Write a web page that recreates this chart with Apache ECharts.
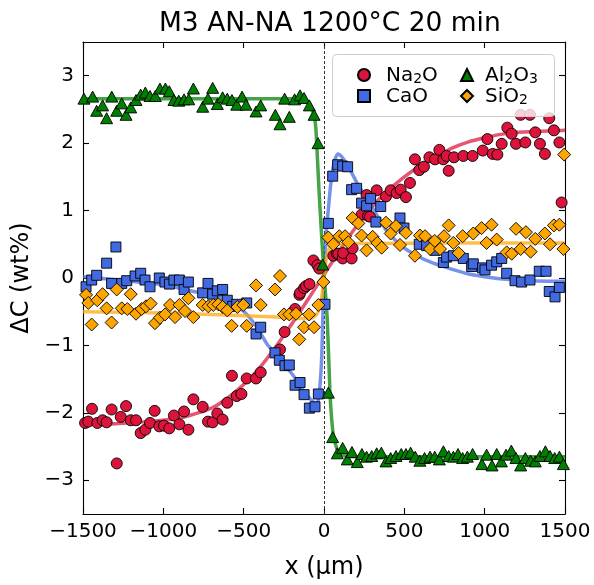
<!DOCTYPE html>
<html><head><meta charset="utf-8">
<script src="https://cdn.jsdelivr.net/npm/echarts@6/dist/echarts.min.js"></script>
<style>html,body{margin:0;padding:0;background:#fff}#c{width:594px;height:585px}</style>
</head><body><div id="c"></div>
<script>
const FONT = 'DejaVu Sans';
const titleText = 'M3 AN-NA 1200°C 20 min';
const xName = 'x (μm)';
const yName = 'ΔC (wt%)';
const xTicks = [-1500, -1000, -500, 0, 500, 1000, 1500];
const yTicks = [-3, -2, -1, 0, 1, 2, 3];
const seriesNames = ['Na2O', 'CaO', 'Al2O3', 'SiO2'];

const na2oPts = [[-1487,-2.15],[-1467,-2.13],[-1444,-1.94],[-1411,-2.15],[-1378,-2.11],[-1353,-2.14],[-1322,-1.95],[-1290,-2.75],[-1265,-2.06],[-1232,-1.90],[-1203,-2.11],[-1170,-2.11],[-1141,-2.30],[-1112,-2.25],[-1083,-2.15],[-1054,-1.97],[-1025,-2.20],[-996,-2.19],[-963,-2.23],[-934,-2.04],[-900,-2.17],[-871,-1.98],[-844,-2.25],[-813,-1.80],[-755,-1.91],[-722,-2.13],[-693,-2.14],[-664,-2.01],[-631,-2.10],[-602,-1.85],[-573,-1.45],[-543,-1.75],[-514,-1.72],[-481,-1.49],[-423,-1.49],[-394,-1.40],[-274,-1.06],[-245,-0.80],[-191,-0.50],[-180,-0.46],[-153,-0.25],[-149,-0.22],[-124,-0.15],[-112,-0.12],[-91,-0.09],[-66,0.26],[-41,0.19],[-29,0.14],[58,0.33],[79,0.36],[89,0.36],[116,0.29],[119,0.37],[172,0.29],[178,0.44],[234,0.94],[274,0.92],[286,0.91],[265,1.23],[328,1.30],[386,1.21],[415,1.30],[452,1.26],[477,1.31],[510,1.20],[535,1.41],[566,1.76],[593,1.60],[622,1.65],[656,1.79],[691,1.76],[718,1.90],[743,1.76],[763,1.81],[776,1.59],[809,1.79],[867,1.81],[925,1.81],[988,1.89],[1017,2.06],[1050,1.84],[1079,1.83],[1106,1.99],[1141,2.23],[1168,2.14],[1195,1.99],[1224,2.42],[1253,2.01],[1282,2.42],[1315,2.16],[1344,1.99],[1375,1.84],[1402,2.37],[1431,2.19],[1465,2.01],[1479,1.12]];

const caoPts = [[-1481,-0.13],[-1446,-0.03],[-1415,0.04],[-1353,0.22],[-1322,-0.08],[-1295,0.46],[-1259,-0.08],[-1228,-0.04],[-1176,0.03],[-1141,0.07],[-1114,-0.03],[-1083,-0.13],[-1025,0.00],[-990,-0.06],[-962,-0.09],[-934,-0.03],[-900,-0.03],[-871,-0.17],[-844,-0.06],[-755,-0.22],[-722,-0.08],[-693,-0.24],[-664,-0.19],[-631,-0.17],[-602,-0.33],[-568,-0.42],[-543,-0.39],[-481,-0.37],[-423,-0.83],[-394,-0.73],[-305,-1.11],[-278,-1.22],[-243,-1.30],[-216,-1.29],[-180,-1.59],[-149,-1.55],[-124,-1.73],[-91,-1.93],[-56,-1.91],[-35,-1.72],[6,-0.39],[27,0.81],[54,1.51],[85,1.68],[116,1.66],[147,1.65],[172,1.31],[203,1.33],[234,1.11],[265,1.07],[290,1.18],[323,0.83],[353,1.06],[473,0.89],[498,0.74],[593,0.50],[639,0.48],[691,0.41],[743,0.23],[763,0.31],[805,0.33],[867,0.29],[919,0.17],[929,0.21],[987,0.15],[1002,0.12],[1043,0.19],[1075,0.24],[1106,0.29],[1137,0.07],[1189,-0.04],[1230,-0.06],[1282,-0.03],[1340,0.10],[1382,0.10],[1402,-0.20],[1438,-0.28],[1465,-0.14]];

const al2o3Pts = [[-1494,2.66],[-1440,2.69],[-1415,2.48],[-1378,2.56],[-1353,2.37],[-1321,2.69],[-1290,2.48],[-1259,2.59],[-1232,2.42],[-1203,2.53],[-1170,2.64],[-1141,2.72],[-1112,2.75],[-1083,2.70],[-1050,2.70],[-1021,2.81],[-987,2.81],[-963,2.77],[-934,2.64],[-904,2.63],[-871,2.65],[-842,2.65],[-813,2.81],[-755,2.54],[-722,2.66],[-693,2.82],[-664,2.58],[-631,2.68],[-602,2.66],[-573,2.64],[-543,2.57],[-510,2.69],[-485,2.57],[-423,2.47],[-394,2.56],[-303,2.42],[-274,2.28],[-245,2.66],[-216,2.39],[-183,2.65],[-149,2.71],[-124,2.67],[-91,2.56],[-62,2.42],[-37,2.00],[-8,0.20],[27,-1.70],[54,-2.36],[83,-2.60],[116,-2.52],[145,-2.69],[174,-2.58],[207,-2.73],[236,-2.61],[265,-2.65],[297,-2.64],[328,-2.60],[357,-2.59],[386,-2.72],[415,-2.67],[448,-2.64],[481,-2.61],[510,-2.61],[539,-2.59],[568,-2.65],[597,-2.71],[626,-2.67],[660,-2.65],[689,-2.65],[718,-2.69],[743,-2.57],[776,-2.64],[805,-2.65],[834,-2.61],[863,-2.67],[892,-2.65],[925,-2.61],[983,-2.76],[1012,-2.62],[1046,-2.78],[1075,-2.61],[1104,-2.72],[1133,-2.62],[1166,-2.56],[1195,-2.67],[1224,-2.78],[1253,-2.67],[1286,-2.71],[1315,-2.72],[1344,-2.64],[1378,-2.57],[1407,-2.64],[1436,-2.67],[1465,-2.65],[1490,-2.76]];

const sio2Pts = [[-1481,-0.25],[-1467,-0.37],[-1446,-0.69],[-1411,-0.33],[-1378,-0.24],[-1353,-0.45],[-1322,-0.66],[-1290,-0.17],[-1259,-0.45],[-1224,-0.46],[-1203,-0.24],[-1170,-0.53],[-1135,-0.46],[-1108,-0.42],[-1079,-0.38],[-1052,-0.67],[-1021,-0.59],[-989,-0.54],[-958,-0.40],[-927,-0.58],[-900,-0.40],[-865,-0.49],[-844,-0.30],[-813,-0.58],[-755,-0.40],[-720,-0.42],[-689,-0.40],[-658,-0.39],[-631,-0.43],[-602,-0.48],[-575,-0.71],[-539,-0.43],[-502,-0.40],[-481,-0.71],[-423,-0.11],[-394,-0.40],[-305,-0.17],[-274,0.03],[-249,-0.54],[-216,-0.54],[-174,-0.53],[-154,-0.91],[-124,-0.73],[-93,-0.54],[-62,-0.73],[-35,-0.40],[-4,-0.06],[27,0.60],[58,0.50],[95,0.62],[131,0.62],[151,0.53],[178,0.89],[214,0.81],[234,0.63],[265,0.41],[303,0.61],[332,0.52],[359,0.45],[386,0.82],[415,0.66],[448,0.77],[473,0.49],[510,0.67],[566,0.33],[597,0.63],[629,0.62],[660,0.43],[689,0.55],[722,0.43],[747,0.62],[776,0.78],[805,0.52],[838,0.37],[863,0.62],[929,0.66],[981,0.74],[1012,0.52],[1043,0.79],[1075,0.57],[1137,0.38],[1168,0.36],[1195,0.73],[1224,0.43],[1257,0.68],[1286,0.39],[1315,0.58],[1375,0.66],[1407,0.50],[1431,0.78],[1465,0.79],[1490,0.43],[1495,1.83]];

// fitted curves
const na2oFitX = [-1500,-1300,-1100,-900,-700,-600,-500,-400,-300,-200,-100,0,100,200,300,400,500,600,700,800,900,1000,1100,1200,1300,1400,1500];
const na2oFitY = [-2.17,-2.16,-2.13,-2.08,-1.93,-1.78,-1.58,-1.33,-1.02,-0.68,-0.32,0.05,0.42,0.76,1.06,1.30,1.50,1.67,1.80,1.93,2.02,2.08,2.13,2.16,2.17,2.18,2.19];
const caoFitX = [-1500,-1200,-1000,-813,-700,-600,-502,-420,-357,-300,-253,-200,-170,-130,-87,-60,-46,-35,-25,-14,-5,0,6,15,27,40,56,70,87,110,131,170,212,265,300,390,480,577,680,784,900,1000,1095,1300,1500];
const caoFitY = [0.02,-0.05,-0.10,-0.20,-0.26,-0.34,-0.49,-0.72,-0.97,-1.13,-1.26,-1.42,-1.52,-1.66,-1.79,-1.85,-1.87,-1.80,-1.60,-1.16,-0.35,0.00,0.30,0.70,1.02,1.35,1.63,1.77,1.84,1.80,1.73,1.57,1.38,1.18,1.05,0.70,0.48,0.33,0.22,0.14,0.06,0.02,-0.01,-0.04,-0.05];
const al2o3FitX = [-1500,-1000,-500,-200,-120,-90,-70,-60,-50,-30,-4,20,37,48,60,80,100,150,500,1000,1500];
const al2o3FitY = [2.66,2.66,2.66,2.66,2.64,2.58,2.48,2.40,2.20,1.25,0.20,-0.60,-1.69,-2.10,-2.35,-2.53,-2.60,-2.65,-2.65,-2.65,-2.65];
const sio2FitX = [-1500,-1000,-600,-300,-150,-80,-40,-15,0,17,40,80,200,800,1500];
const sio2FitY = [-0.50,-0.52,-0.55,-0.58,-0.60,-0.60,-0.52,-0.29,0.00,0.33,0.46,0.50,0.51,0.52,0.52];

const zip = (xs, ys) => xs.map((x, i) => [x, ys[i]]);
const minus = v => String(v).replace('-', '\u2212');

const richNames = {
  'Na2O': '{n|Na}{s|2}{n|O}',
  'CaO': '{n|CaO}',
  'Al2O3': '{n|Al}{s|2}{n|O}{s|3}',
  'SiO2': '{n|SiO}{s|2}'
};
function legendText(gap) {
  return {
    fontFamily: FONT, fontSize: 20, color: '#000',
    rich: {
      g: { width: gap, lineHeight: 22, verticalAlign: 'bottom' },
      n: { fontFamily: FONT, fontSize: 20, lineHeight: 22, verticalAlign: 'bottom', color: '#000' },
      s: { fontFamily: FONT, fontSize: 14, lineHeight: 8, verticalAlign: 'bottom', color: '#000' }
    }
  };
}

const chart = echarts.init(document.getElementById('c'), null, { renderer: 'canvas' });

function fitSeries(name, pts, color) {
  return {
    name: name + '_fit', type: 'line', data: pts, showSymbol: false, symbol: 'none',
    smooth: 0.2, z: 1, silent: true,
    lineStyle: { color: color, width: 3.5, opacity: 0.72 },
    xAxisIndex: 0, yAxisIndex: 0
  };
}
function scatterSeries(name, pts, symbol, size, color) {
  return {
    name: name, type: 'scatter', data: pts, symbol: symbol, symbolSize: size, z: 3,
    itemStyle: { color: color, borderColor: '#000', borderWidth: 0.9, opacity: 1 },
    xAxisIndex: 0, yAxisIndex: 0
  };
}

const axisCommon = {
  axisLine: { show: true, onZero: false, lineStyle: { color: '#000', width: 1.1 } },
  axisTick: { show: true, inside: true, length: 6, lineStyle: { color: '#000', width: 1.1 } },
  splitLine: { show: false }
};

const option = {
  backgroundColor: '#fff',
  animation: false,
  title: {
    text: titleText, left: 154, top: 6,
    textStyle: { fontFamily: FONT, fontSize: 26.5, fontWeight: 'normal', color: '#000' }
  },
  grid: { left: 83, right: 29, top: 42, bottom: 61, containLabel: false },
  xAxis: [
    Object.assign({}, axisCommon, {
      type: 'value', min: -1500, max: 1500, position: 'bottom',
      axisTick: Object.assign({}, axisCommon.axisTick, { customValues: xTicks }),
      axisLabel: { customValues: xTicks, formatter: minus, fontFamily: FONT, fontSize: 20, color: '#000', margin: 8 },
      name: xName, nameLocation: 'middle', nameGap: 42,
      nameTextStyle: { fontFamily: FONT, fontSize: 24, color: '#000' }
    }),
    Object.assign({}, axisCommon, {
      type: 'value', min: -1500, max: 1500, position: 'top',
      axisTick: Object.assign({}, axisCommon.axisTick, { customValues: xTicks }),
      axisLabel: { show: false, customValues: xTicks }
    })
  ],
  yAxis: [
    Object.assign({}, axisCommon, {
      type: 'value', min: -3.5, max: 3.5, position: 'left',
      axisTick: Object.assign({}, axisCommon.axisTick, { customValues: yTicks }),
      axisLabel: { customValues: yTicks, formatter: minus, fontFamily: FONT, fontSize: 20, color: '#000', margin: 9 },
      name: yName, nameLocation: 'middle', nameGap: 42,
      nameTextStyle: { fontFamily: FONT, fontSize: 24, color: '#000' }
    }),
    Object.assign({}, axisCommon, {
      type: 'value', min: -3.5, max: 3.5, position: 'right',
      axisTick: Object.assign({}, axisCommon.axisTick, { customValues: yTicks }),
      axisLabel: { show: false, customValues: yTicks }
    })
  ],
  legend: [
    {
      data: [seriesNames[0], seriesNames[1]], orient: 'vertical', left: 357, top: 66, padding: 0,
      itemWidth: 12, itemHeight: 12, itemGap: 1, z: 60,
      formatter: n => '{g|}' + richNames[n], textStyle: legendText(11), inactiveColor: '#ccc'
    },
    {
      data: [seriesNames[2], seriesNames[3]], orient: 'vertical', left: 460, top: 66, padding: 0,
      itemWidth: 12, itemHeight: 12, itemGap: 1, z: 60,
      formatter: n => '{g|}' + richNames[n], textStyle: legendText(7), inactiveColor: '#ccc'
    }
  ],
  graphic: [{
    type: 'rect', z: 50, silent: true,
    shape: { x: 332.5, y: 54.5, width: 222, height: 62, r: 4 },
    style: { fill: 'rgba(255,255,255,0.8)', stroke: '#cccccc', lineWidth: 1 }
  }],
  series: [
    Object.assign(fitSeries('Na2O', zip(na2oFitX, na2oFitY), '#dc143c'), {
      markLine: {
        silent: true, symbol: 'none', label: { show: false }, z: 1,
        lineStyle: { type: [3, 2], color: '#333', width: 1, opacity: 1 },
        data: [{ xAxis: 0 }]
      }
    }),
    fitSeries('CaO', zip(caoFitX, caoFitY), '#4169e1'),
    fitSeries('Al2O3', zip(al2o3FitX, al2o3FitY), '#008000'),
    fitSeries('SiO2', zip(sio2FitX, sio2FitY), '#ffa500'),
    scatterSeries('Na2O', na2oPts, 'circle', 11, '#dc143c'),
    scatterSeries('CaO', caoPts, 'rect', 10, '#4169e1'),
    scatterSeries('Al2O3', al2o3Pts, 'triangle', [12, 11], '#008000'),
    scatterSeries('SiO2', sio2Pts, 'diamond', 13, '#ffa500')
  ]
};
chart.setOption(option);
</script>
</body></html>
